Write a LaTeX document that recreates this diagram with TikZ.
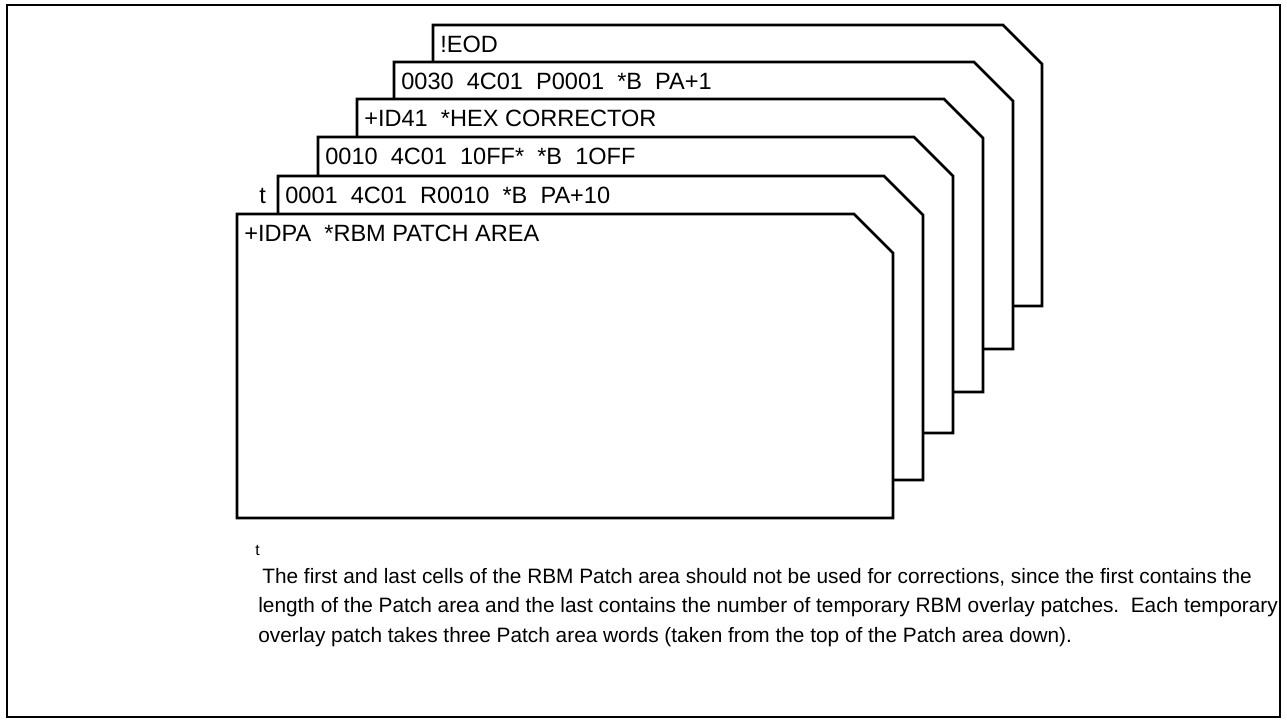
\documentclass[tikz,border=0pt]{standalone}
\usepackage{fontspec}
\setmainfont{Liberation Sans}
\usetikzlibrary{positioning}

\begin{document}
\begin{tikzpicture}[x=0.02cm, y=-0.02cm,
  frame/.style={draw, line width=1.1pt},
  cardline/.style={draw, line width=1.6pt, line join=miter, fill=white},
  cardtext/.style={anchor=west, inner sep=0pt, font=\fontsize{13.4}{15}\selectfont},
  notetext/.style={anchor=west, inner sep=0pt, font=\fontsize{11.85}{14}\selectfont}]
\useasboundingbox (0,0) rectangle (1287,721);
\draw[frame] (7,5) rectangle (1280,717);
% cards, from the back one to the front one
\foreach \i/\l/\t/\r/\b/\txt in {
  1/433/25/1042/306/{!EOD},
  2/394/62/1013/349/{0030~~4C01~~P0001~~*B~~PA+1},
  3/357/99/983/392/{+ID41~~*HEX CORRECTOR},
  4/318/137/953/433/{0010~~4C01~~10FF*~~*B~~1OFF},
  5/278/176/923/480/{0001~~4C01~~R0010~~*B~~PA+10},
  6/237/214/893/518/{+IDPA~~*RBM PATCH AREA}}{
  \draw[cardline] (\l,\t) -- (\r-39,\t) -- (\r,\t+39) -- (\r,\b) -- (\l,\b) -- cycle;
  \node[cardtext] (card\i) at (\l+7,\t+19) {\txt};
}
\node[cardtext] (mark) at (259,196) {t};
% footnote
\node[notetext, font=\fontsize{9}{10}\selectfont] (notemark) at (255,550) {t};
\node[notetext] (note1) at (262,577) {The first and last cells of the RBM Patch area should not be used for corrections, since the first contains the};
\node[notetext] (note2) at (258,607) {length of the Patch area and the last contains the number of temporary RBM overlay patches.~~Each temporary};
\node[notetext] (note3) at (258,637) {overlay patch takes three Patch area words (taken from the top of the Patch area down).};
\end{tikzpicture}
\end{document}
